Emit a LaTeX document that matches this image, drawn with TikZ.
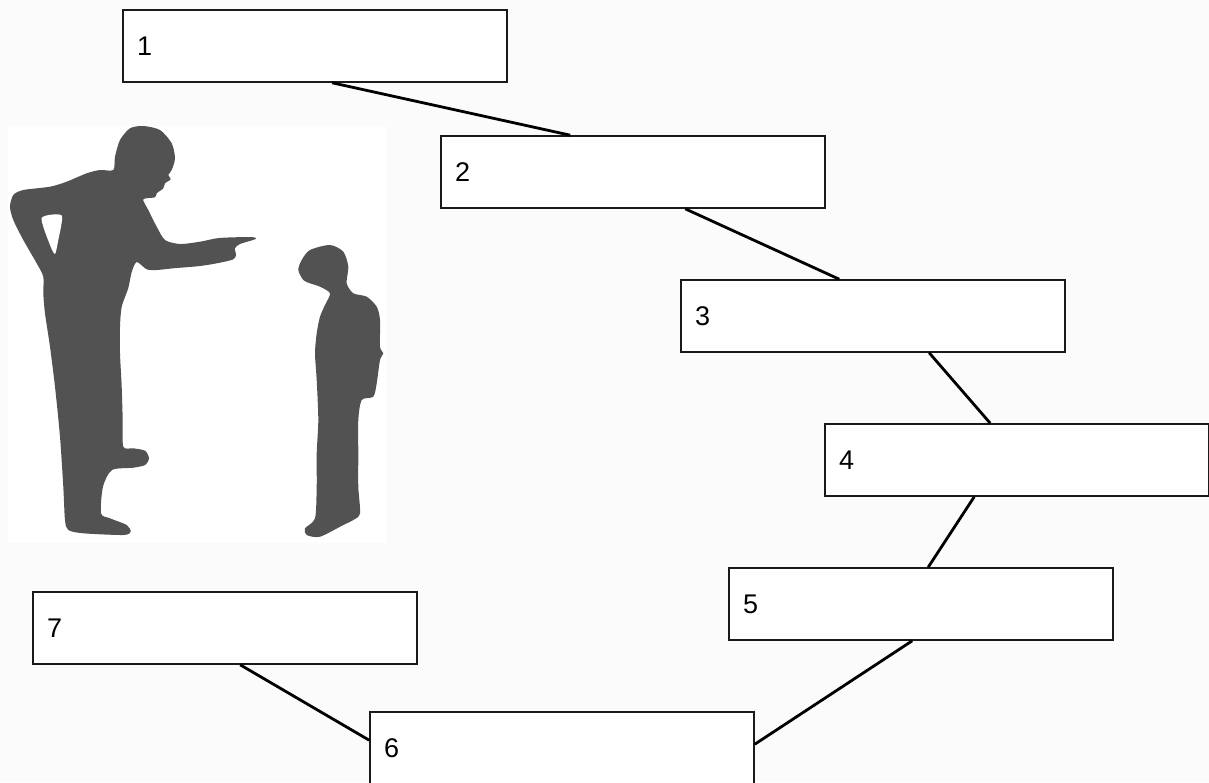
\documentclass[tikz,border=0pt]{standalone}
\usepackage{fontspec}
\setmainfont{Liberation Sans}
\usetikzlibrary{calc}
\definecolor{pagebg}{HTML}{FBFBFB}
\definecolor{silh}{HTML}{525252}
\definecolor{boxline}{HTML}{1A1A1A}
\tikzset{
  numbox/.style={draw=boxline, line width=1.6pt, fill=white, rectangle,
    minimum width=384pt, minimum height=72pt, text width=356pt,
    inner xsep=14pt, inner ysep=0pt, align=left,
    font=\fontsize{27}{27}\selectfont},
  link/.style={draw=black, line width=2.8pt},
  figure/.style={fill=silh, draw=none}
}
\begin{document}
\begin{tikzpicture}[x=1pt,y=-1pt]
\useasboundingbox (0,0) rectangle (1209,782);
\fill[pagebg] (0,0) rectangle (1209,782);
\fill[white] (8,126) rectangle (386,543);
% man
\path[figure] plot[smooth cycle, tension=0.45] coordinates {
(143.3,126) (160,130) (171.7,143.3) (175,158.3) (171.7,170) (168.3,175)
(170.7,179.3) (165,183.3) (163.3,188.3) (156.7,193.3) (155,197.3) (143.3,199.3)
(148.3,210) (156.7,226.7) (165,240) (180,244) (200,241.7) (216.7,238.3)
(233.3,237.3) (254,237.3) (255,239.3) (240,244) (235,248.3) (236,255)
(233.3,259.3) (220,262.7) (200,266) (173.3,268.3) (156.7,270) (146.7,269.3)
(136.7,262) (131.7,272) (128.3,288) (121.7,306.7) (120,326.7) (120,353.3)
(121.7,386.7) (122.7,420) (123.3,446.7) (133.3,448.3) (145,450.7) (149,458.3)
(145,465) (133.3,467.7) (112,470) (103,486.7) (101,513.3) (110,518.3)
(126.7,525) (130.7,531.7) (123.3,535) (83.3,533.3) (68.3,530) (65,520)
(63.3,486.7) (60,436.7) (55,386.7) (50,346.7) (45,313.3) (43.3,293.3)
(43.3,276.7) (36.7,263.3) (23.3,240) (13.3,220) (10,206.7) (13.3,195)
(23.3,190) (50,186.7) (66.7,181.7) (86.7,173.3) (100,170) (113.3,170)
(115,156.7) (120,140) (130,128.3)};
\fill[white] plot[smooth cycle, tension=0.4] coordinates {
(41.7,218) (61.7,215.5) (58.3,240) (55,254) (50,245)};
% boy
\path[figure] plot[smooth cycle, tension=0.45] coordinates {
(330,245) (343.3,251.7) (348.3,266.7) (346.7,283.3) (353.3,293.3) (366.7,296.7)
(376.7,306.7) (380,320) (380,346.7) (383.3,353.3) (380,360) (376.7,383.3)
(373.3,396.7) (361.7,400) (358.3,420) (358.3,453.3) (358.3,486.7) (360,513.3)
(353.3,520) (343.3,525) (320,536.7) (306.7,535) (305,528.3) (315,518.3)
(316.7,486.7) (316.7,453.3) (318.3,420) (316.7,380) (315,353.3) (316.7,333.3)
(320,316.7) (325,305) (330,293.3) (320,286.7) (310,283.3) (303.3,280)
(298.3,270) (301.7,260) (310,250)};
% boxes
\node[numbox] (b1) at (315,46) {1};
\node[numbox] (b2) at (633,172) {2};
\node[numbox] (b3) at (873,316) {3};
\node[numbox] (b4) at (1017,460) {4};
\node[numbox] (b5) at (921,604) {5};
\node[numbox] (b6) at (562,748) {6};
\node[numbox] (b7) at (225,628) {7};
% connectors
\draw[link] ($(b1.south west)+(210,0)$) -- ($(b2.north west)+(130,0)$);
\draw[link] ($(b2.south west)+(245,0)$) -- ($(b3.north west)+(159,0)$);
\draw[link] ($(b3.south west)+(249,0)$) -- ($(b4.north west)+(166,0)$);
\draw[link] ($(b4.south west)+(150,0)$) -- ($(b5.north west)+(200,0)$);
\draw[link] ($(b5.south west)+(184,0)$) -- ($(b6.north east)+(0,33)$);
\draw[link] ($(b7.south west)+(208,0)$) -- ($(b6.north west)+(0,29)$);
\end{tikzpicture}
\end{document}
